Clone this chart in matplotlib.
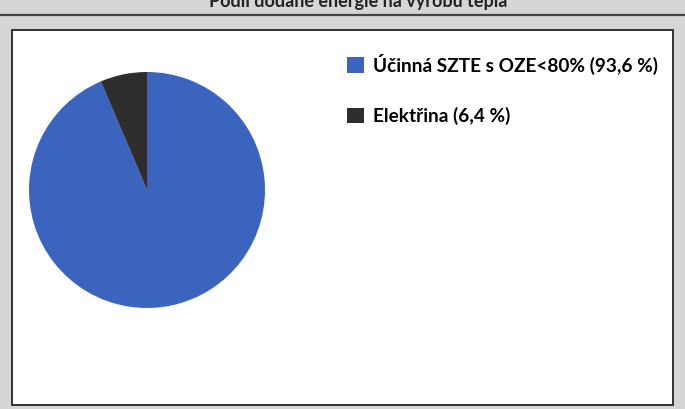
import matplotlib.pyplot as plt
from matplotlib.patches import Rectangle, Patch
from matplotlib.lines import Line2D

# data
labels = ["Účinná SZTE s OZE<80% (93,6 %)", "Elektřina (6,4 %)"]
shares = [93.6, 6.4]
colors = ["#3b64bf", "#2e2e2e"]
title = "Podíl dodané energie na výrobu tepla"

W, H = 685, 409
fig = plt.figure(figsize=(W / 100, H / 100), dpi=100)
fig.patch.set_facecolor("#d6d6d6")


def fx(px):
    return px / W


def fy(py):
    # pixel from top -> figure fraction
    return 1 - py / H


# title, mostly cut off by the top edge of the scan
fig.text(fx(358), fy(7), title, ha="center", va="baseline",
         fontsize=13, fontweight="bold", family="Lato", color="#222222")

# separator line under the title
fig.add_artist(Line2D([0, 1], [fy(15), fy(15)], transform=fig.transFigure,
                      color="#444444", lw=1.6, zorder=-2))

# white chart area with dark border
fig.add_artist(Rectangle((fx(12), fy(405)), fx(661), 375 / H,
                         transform=fig.transFigure, facecolor="white",
                         edgecolor="#333333", lw=1.4, zorder=-1))

# pie
cx, cy, r = 147, 190, 118
ax = fig.add_axes([fx(cx - r), fy(cy + r), fx(2 * r), 2 * r / H])
ax.pie(shares, colors=colors, startangle=90, counterclock=False,
       wedgeprops={"linewidth": 0})
ax.set_xlim(-1, 1)
ax.set_ylim(-1, 1)
ax.set_aspect("equal")
ax.axis("off")

handles = [Patch(facecolor=c, edgecolor="none") for c in colors]
fig.legend(handles, labels, loc="upper left",
           bbox_to_anchor=(fx(339), fy(46)), frameon=False,
           prop={"family": "Lato", "weight": "bold", "size": 13.7},
           handlelength=0.9, handleheight=0.9, handletextpad=0.5,
           labelspacing=1.7, borderaxespad=0)

fig.savefig("out.png", dpi=100, facecolor=fig.get_facecolor())
